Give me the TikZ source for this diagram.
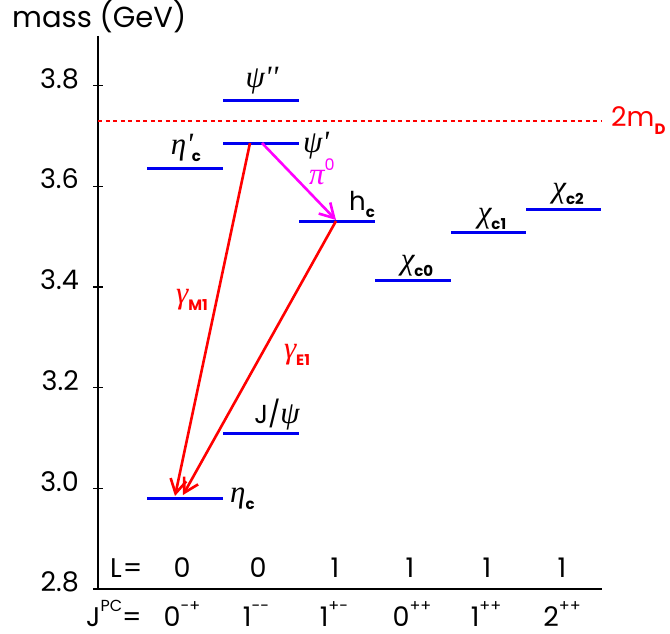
\documentclass[tikz,border=0pt]{standalone}
\usepackage{fontspec}
\setmainfont{Poppins}
\newfontfamily\grkfont{Liberation Serif}
\usetikzlibrary{arrows.meta}
\definecolor{pred}{RGB}{255,0,0}
\definecolor{pblue}{RGB}{0,0,240}
\definecolor{pmag}{RGB}{255,0,255}
\newcommand\gr[1]{{\fontsize{31}{31}\grkfont\itshape #1}}
\newcommand\lsub[1]{\raisebox{-0.5ex}{\fontsize{15}{15}\selectfont\bfseries #1}}
\newcommand\lsup[1]{\raisebox{0.95ex}{\fontsize{16}{16}\selectfont #1}}
\tikzset{
  lvl/.style={pblue, line width=3pt},
  ax/.style={black, line width=1.8pt},
  tck/.style={black, line width=1.2pt},
  big/.style={font=\fontsize{27}{27}\selectfont, inner sep=0pt},
  lab/.style={font=\fontsize{26}{26}\selectfont, inner sep=0pt},
  phot/.style={pred, line width=2.6pt, -{Straight Barb[length=14pt,width=16pt]}},
  pion/.style={pmag, line width=2.6pt, -{Straight Barb[length=14pt,width=16pt]}},
}
\begin{document}
\begin{tikzpicture}[x=1pt,y=-1pt]
\useasboundingbox (0,0) rectangle (670,634);
% axes
\coordinate (top) at (98,36);
\coordinate (orig) at (98,589);
\coordinate (xend) at (602,589);
\draw[ax] (top) -- (orig) -- (xend);
\foreach \y/\t in {589/2.8,488.3/3.0,387.6/3.2,286.9/3.4,186.2/3.6,85.5/3.8}{
  \draw[tck] (93,\y) -- (103,\y);
  \node[big, anchor=mid east] (t\t) at (79,\y) {\t};
}
\node[big, anchor=base west, font=\fontsize{29}{29}\selectfont] (mass) at (12,28) {mass (GeV)};
% 2mD threshold
\coordinate (dl) at (98,121);
\coordinate (dr) at (602,121);
\draw[pred, line width=1.4pt, dash pattern=on 4pt off 3.5pt] (dl) -- (dr);
\node[big, pred, anchor=base west] (tmd) at (611,127) {2m\lsub{D}};
% levels
\draw[lvl] (147,498) coordinate (etacL) -- (223,498) coordinate (etacR);
\draw[lvl] (147,168) coordinate (etapL) -- (223,168) coordinate (etapR);
\draw[lvl] (223,433) coordinate (jpsiL) -- (299,433) coordinate (jpsiR);
\draw[lvl] (223,143) coordinate (psipL) -- (299,143) coordinate (psipR);
\draw[lvl] (223,101) coordinate (psippL) -- (299,101) coordinate (psippR);
\draw[lvl] (299,221) coordinate (hcL) -- (375,221) coordinate (hcR);
\draw[lvl] (375,280) coordinate (c0L) -- (451,280) coordinate (c0R);
\draw[lvl] (451,232) coordinate (c1L) -- (526,232) coordinate (c1R);
\draw[lvl] (526,209) coordinate (c2L) -- (601,209) coordinate (c2R);
% level labels
\node[lab, anchor=base] (lpsipp) at (262,88) {\gr{ψ''}};
\node[lab, anchor=base] (letap) at (186,154) {\gr{η'}\kern-1pt\lsub{c}};
\node[lab, anchor=base west] (lpsip) at (303,152) {\gr{ψ'}};
\node[lab, anchor=base] (lhc) at (362,210) {h\lsub{c}};
\node[lab, anchor=base] (lc0) at (417,269) {\gr{χ}\lsub{c0}};
\node[lab, anchor=base] (lc1) at (492,222) {\gr{χ}\lsub{c1}};
\node[lab, anchor=base] (lc2) at (568,197) {\gr{χ}\lsub{c2}};
\node[lab, anchor=base] (ljpsi) at (277,423) {J/\gr{ψ}};
\node[lab, anchor=base west] (letac) at (230,502) {\gr{η}\lsub{c}};
% transitions
\coordinate (m1s) at (250,143);
\coordinate (m1e) at (175,496);
\coordinate (e1s) at (336,221);
\coordinate (e1e) at (183,495);
\coordinate (pis) at (262,143);
\coordinate (pie) at (336,220);
\draw[phot] (m1s) -- (m1e);
\draw[phot] (e1s) -- (e1e);
\draw[pion] (pis) -- (pie);
\node[lab, pred, anchor=base] (lm1) at (192,303) {\gr{γ}\lsub{M1}};
\node[lab, pred, anchor=base] (le1) at (297,358) {\gr{γ}\lsub{E1}};
\node[lab, pmag, anchor=base] (lpi) at (322,184) {\gr{π}\lsup{0}};
% bottom labels
\node[big, anchor=base west] (Lq) at (110,577) {L\kern1pt=};
\foreach \x/\v [count=\i] in {182/0,258/0,335/1,410/1,487/1,562/1}
  \node[big, anchor=base] (L\i) at (\x,577) {\v};
\node[big, anchor=base west, text depth=0pt] (Jq) at (86,626) {J\lsup{PC}=};
\foreach \x/\v/\s [count=\i] in {182/0/{-+},256/1/{{-}{-}},334/1/{+-},412/0/{++},486/1/{++},562/2/{++}}
  \node[big, anchor=base, text depth=0pt] (J\i) at (\x,626) {\v\lsup{\s}};
\end{tikzpicture}
\end{document}
